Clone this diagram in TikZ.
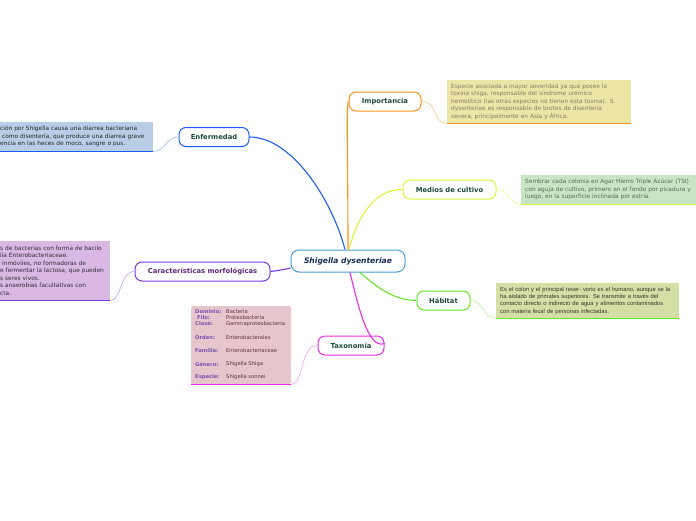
\documentclass[tikz,border=0pt]{standalone}
\usepackage{fontspec}
\usepackage{xcolor}
\usetikzlibrary{arrows.meta, positioning}
\newfontfamily\verd{DejaVu Sans}
\newfontfamily\arialf{Liberation Sans}
\definecolor{brorange}{HTML}{F9931A}
\definecolor{bryellow}{HTML}{DDF23B}
\definecolor{brgreen}{HTML}{66E62E}
\definecolor{brmagenta}{HTML}{E62EE6}
\definecolor{brpurple}{HTML}{7A3AE0}
\definecolor{brblue}{HTML}{1F5CF2}
\definecolor{rootline}{HTML}{4A9BD8}
\definecolor{roottext}{HTML}{1A2A55}
\definecolor{topictext}{HTML}{1E4A3C}
\definecolor{chartext}{HTML}{5A2A7A}
\definecolor{fillimp}{HTML}{EBE6A5}
\definecolor{fillmed}{HTML}{C8E6C6}
\definecolor{fillhab}{HTML}{D4DFA6}
\definecolor{fillenf}{HTML}{B9CDE6}
\definecolor{fillchar}{HTML}{D9B8E3}
\definecolor{filltax}{HTML}{E6C6CC}
\tikzset{
  >=latex,
  % nodi del mappa
  root/.style={draw=rootline,line width=1pt,rounded corners=8pt,fill=white,
    minimum width=114pt,minimum height=22pt,inner sep=0pt,text=roottext,
    font=\verd\bfseries\itshape\fontsize{7.6}{9}\selectfont},
  topic/.style={line width=1pt,rounded corners=7pt,fill=white,minimum height=19pt,
    inner sep=0pt,text=topictext,font=\verd\bfseries\fontsize{6.8}{8}\selectfont},
  % note
  note/.style={anchor=north west,inner xsep=4pt,inner ysep=0pt,align=left,
    font=\verd\fontsize{5.85}{7.5}\selectfont},
  % connessioni
  branch/.style={line width=1.1pt},
  twig/.style={line width=0.6pt},
  underline/.style={line width=0.9pt}
}
\begin{document}
\begin{tikzpicture}[x=1pt,y=-1pt]
  \useasboundingbox (0,0) rectangle (696,520);

  % nodo centrale e rami
  \node[root] (root) at (348,261) {Shigella dysenteriae};
  \node[topic,draw=brorange,minimum width=72pt] (imp) at (385,101.5) {Importancia};
  \node[topic,draw=bryellow,minimum width=93pt] (med) at (449.5,189.5) {Medios de cultivo};
  \node[topic,draw=brgreen,minimum width=53pt] (hab) at (443.5,300.5) {Hábitat};
  \node[topic,draw=brmagenta,minimum width=66pt] (tax) at (351,345.5) {Taxonomía};
  \node[topic,draw=brpurple,text=chartext,minimum width=135pt] (car) at (202.5,271.5) {Características morfológicas};
  \node[topic,draw=brblue,minimum width=70pt] (enf) at (214,137) {Enfermedad};

  \draw[branch,brblue] ([xshift=-3pt]root.north) .. controls (332,200) and (292,137) .. (enf.east);
  \draw[branch,brorange] (root.north) .. controls (348,160) and (346,103) .. (imp.west);
  \draw[branch,bryellow] ([xshift=1pt]root.north) .. controls (356,222) and (372,189) .. (med.west);
  \draw[branch,brgreen] ([xshift=12pt]root.south) .. controls (380,290) and (395,300) .. (hab.west);
  \draw[branch,brmagenta] ([xshift=2pt]root.south) .. controls (358,305) and (368,350) .. ([yshift=2pt]tax.east);
  \draw[branch,brpurple] ([yshift=-7pt]root.west) .. controls (282,270) .. (car.east);

  % note
  \node[note,fill=fillimp,text=black!45!fillimp!60!gray,text width=176pt,minimum height=43pt] (impnote) at (447,80)
    {Especie asociada a mayor severidad ya que posee la\\
     toxina shiga, responsable del síndrome urémico\\
     hemolítico (las otras especies no tienen esta toxina). S.\\
     dysenteriae es responsable de brotes de disentería\\
     severa, principalmente en Asia y África.};
  \node[note,fill=fillmed,text=black!55!fillmed,text width=180pt,minimum height=29pt] (mednote) at (521,175)
    {Sembrar cada colonia en Agar Hierro Triple Azúcar (TSI)\\
     con aguja de cultivo, primero en el fondo por picadura y\\
     luego, en la superficie inclinada por estría.};
  \node[note,fill=fillhab,text=black!75!fillhab,text width=175pt,minimum height=35pt,
    font=\arialf\fontsize{5.8}{7.4}\selectfont] (habnote) at (496,283)
    {Es el colon y el principal reser- vorio es el humano, aunque se la\\
     ha aislado de primates superiores. Se transmite a través del\\
     contacto directo o indirecto de agua y alimentos contaminados\\
     con materia fecal de personas infectadas.};
  \node[note,fill=fillenf,text=black!80!fillenf,text width=149pt,minimum height=29pt] (enfnote) at (-4,122)
    {ción por Shigella causa una diarrea bacteriana\\
     \hspace{2pt}como disentería, que produce una diarrea grave\\
     encia en las heces de moco, sangre o pus.};
  \node[note,fill=fillchar,text=black!75!fillchar,text width=106pt,minimum height=59pt] (carnote) at (-4,241)
    {s de bacterias con forma de bacilo\\
     lia Enterobacteriaceae.\\
     \hspace{2pt}inmóviles, no formadoras de\\
     e fermentar la lactosa, que pueden\\
     s seres vivos.\\
     s anaerobias facultativas con\\
     cta.};
  \node[fill=filltax,rounded corners=1.5pt,anchor=north west,minimum width=100pt,minimum height=78pt,inner sep=0pt] (taxnote) at (191,306) {};
  \foreach \lab/\val/\yy [count=\i] in {Dominio:/Bacteria/312,\hspace{2pt}Filo:/Proteobacteria/318,Clase:/Gammaproteobacteria/324,
      Orden:/Enterobacterales/338,Familia:/Enterobacteriaceae/351,Género:/Shigella Shiga/364,Especie:/Shigella sonnei/377}{
    \node[anchor=west,inner sep=0pt,text=brpurple!70!black!80,font=\verd\bfseries\fontsize{5.2}{6}\selectfont] (taxlab\i) at (195,\yy) {\lab};
    \node[anchor=west,inner sep=0pt,text=black!70!filltax!80!purple,font=\verd\fontsize{5.2}{6}\selectfont] (taxval\i) at (226,\yy) {\val};
  }

  % sottolineature delle note
  \draw[underline,brorange] (impnote.south west) -- (impnote.south east);
  \draw[underline,bryellow] (mednote.south west) -- (mednote.south east);
  \draw[underline,brgreen] (habnote.south west) -- (habnote.south east);
  \draw[underline,brblue] (enfnote.south west) -- (enfnote.south east);
  \draw[underline,brpurple] (carnote.south west) -- (carnote.south east);
  \draw[underline,brmagenta] (taxnote.south west) -- (taxnote.south east);

  % collegamenti alle note
  \draw[twig,brorange!50] (imp.east) .. controls (438,101) and (432,123) .. (impnote.south west);
  \draw[twig,bryellow!60] (med.east) .. controls (510,189) and (508,204) .. (mednote.south west);
  \draw[twig,brgreen!50] (hab.east) .. controls (484,300) and (482,318) .. (habnote.south west);
  \draw[twig,brblue!45] (enf.west) .. controls (166,137) and (166,151) .. (enfnote.south east);
  \draw[twig,brpurple!50] (car.west) .. controls (120,271) and (122,300) .. (carnote.south east);
  \draw[twig,brmagenta!45] (tax.west) .. controls (300,345) and (304,384) .. (taxnote.south east);
\end{tikzpicture}
\end{document}
